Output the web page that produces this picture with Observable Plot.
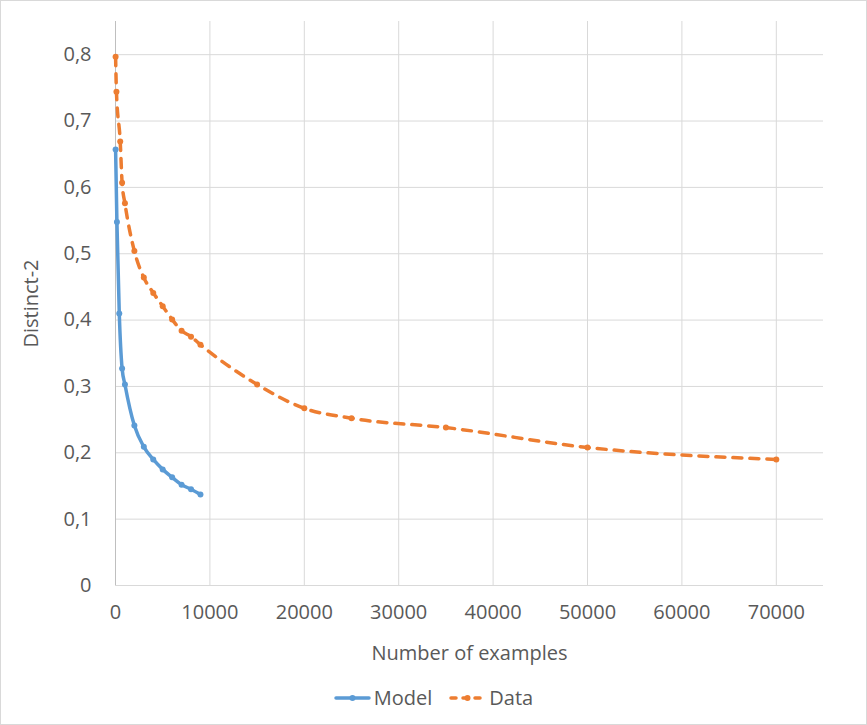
<!DOCTYPE html>
<html>
<head>
<meta charset="utf-8">
<script src="https://cdn.jsdelivr.net/npm/d3@7"></script>
<script src="https://cdn.jsdelivr.net/npm/@observablehq/plot@0.6"></script>
<style>
  body { margin: 0; background: #fff; }
  #chart { position: relative; width: 867px; height: 725px; font-family: "Open Sans", sans-serif; color: #595959; }
  #chart::after { content: ""; position: absolute; inset: 0; border: 1px solid #d9d9d9; pointer-events: none; }
  #plot svg { position: absolute; left: 0; top: 0; }
  #legend { position: absolute; top: 684px; left: 0; width: 867px; display: flex; justify-content: center; align-items: center; font-size: 20px; gap: 17px; }
  .item { display: flex; align-items: center; gap: 3px; }
</style>
</head>
<body>
<div id="chart">
  <div id="plot"></div>
  <div id="legend"></div>
</div>
<script>
// Distinct-2 as the number of examples grows
const modelX = [10, 150, 400, 700, 1000, 2000, 3000, 4000, 5000, 6000, 7000, 8000, 9000];
const modelY = [0.657, 0.548, 0.410, 0.327, 0.303, 0.241, 0.209, 0.190, 0.175, 0.163, 0.152, 0.145, 0.137];
const dataX = [10, 100, 500, 700, 1000, 2000, 3000, 4000, 5000, 6000, 7000, 8000, 9000, 15000, 20000, 25000, 35000, 50000, 70000];
const dataY = [0.797, 0.744, 0.669, 0.607, 0.576, 0.504, 0.464, 0.441, 0.421, 0.401, 0.384, 0.375, 0.363, 0.303, 0.267, 0.252, 0.238, 0.208, 0.190];
const xTicks = [0, 10000, 20000, 30000, 40000, 50000, 60000, 70000];
const yTicks = [0, 0.1, 0.2, 0.3, 0.4, 0.5, 0.6, 0.7, 0.8];
const seriesNames = ["Model", "Data"];
const seriesColors = ["#5b9bd5", "#ed7d31"];

const model = modelX.map((x, i) => ({x, y: modelY[i]}));
const data = dataX.map((x, i) => ({x, y: dataY[i]}));

const commaDecimal = d => d === 0 ? "0" : d.toFixed(1).replace(".", ",");

const chart = Plot.plot({
  width: 867,
  height: 670,
  marginLeft: 115,
  marginRight: 44,
  marginTop: 21,
  marginBottom: 85,
  style: {fontFamily: "'Open Sans', sans-serif", fontSize: "20px", color: "#595959", background: "transparent"},
  x: {domain: [0, 75000]},
  y: {domain: [0, 0.85]},
  marks: [
    Plot.gridX(xTicks.slice(1), {stroke: "#d9d9d9", strokeOpacity: 1, strokeWidth: 1}),
    Plot.gridY(yTicks.slice(1), {stroke: "#d9d9d9", strokeOpacity: 1, strokeWidth: 1}),
    Plot.ruleX([0], {stroke: "#bfbfbf", strokeWidth: 1}),
    Plot.ruleY([0], {stroke: "#d9d9d9", strokeWidth: 1}),
    Plot.axisX({ticks: xTicks, tickSize: 0, tickPadding: 19, tickFormat: d => String(d),
      label: "Number of examples", labelAnchor: "center", labelArrow: "none", labelOffset: 74, fill: "#595959"}),
    Plot.axisY({ticks: yTicks, tickSize: 0, tickPadding: 24, tickFormat: commaDecimal,
      label: "Distinct-2", labelAnchor: "center", labelArrow: "none", labelOffset: 92, fill: "#595959"}),
    Plot.line(data, {x: "x", y: "y", stroke: seriesColors[1], strokeWidth: 3.5, strokeDasharray: "9,8", strokeLinecap: "round", curve: "monotone-x"}),
    Plot.dot(data, {x: "x", y: "y", r: 3, fill: seriesColors[1]}),
    Plot.line(model, {x: "x", y: "y", stroke: seriesColors[0], strokeWidth: 3.5, curve: "monotone-x"}),
    Plot.dot(model, {x: "x", y: "y", r: 3, fill: seriesColors[0]})
  ]
});
document.getElementById("plot").append(chart);

// Legend: line swatch with a marker, then the series name
const legend = d3.select("#legend");
seriesNames.forEach((name, i) => {
  const item = legend.append("div").attr("class", "item");
  const svg = item.append("svg").attr("width", 37).attr("height", 12);
  svg.append("line").attr("x1", 2).attr("x2", 35).attr("y1", 6).attr("y2", 6)
    .attr("stroke", seriesColors[i]).attr("stroke-width", 3.5).attr("stroke-linecap", "round")
    .attr("stroke-dasharray", i === 1 ? "5,7" : null);
  svg.append("circle").attr("cx", 18.5).attr("cy", 6).attr("r", 3).attr("fill", seriesColors[i]);
  item.append("span").text(name);
});
</script>
</body>
</html>
